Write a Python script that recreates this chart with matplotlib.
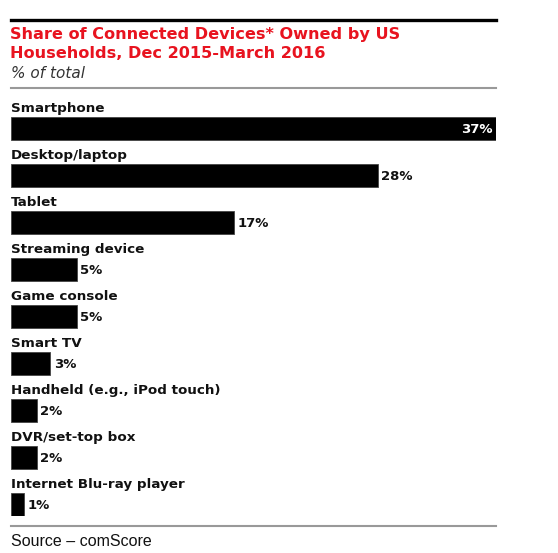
import matplotlib
matplotlib.use("Agg")
import matplotlib.pyplot as plt
from matplotlib.lines import Line2D

categories = ["Smartphone", "Desktop/laptop", "Tablet", "Streaming device",
              "Game console", "Smart TV", "Handheld (e.g., iPod touch)",
              "DVR/set-top box", "Internet Blu-ray player"]
values = [37, 28, 17, 5, 5, 3, 2, 2, 1]
value_labels = ["37%", "28%", "17%", "5%", "5%", "3%", "2%", "2%", "1%"]

title_lines = ["Share of Connected Devices* Owned by US",
               "Households, Dec 2015-March 2016"]
subtitle = "% of total"
source = "Source \u2013 comScore"

W, H = 558, 553
fig = plt.figure(figsize=(W / 100, H / 100), dpi=100)
fig.patch.set_facecolor("white")

def fx(px):
    return px / W

def fy(py):
    return 1 - py / H

left_px, right_px = 11, 496
top_px, bottom_px = 116.5, 515.5
ax = fig.add_axes([fx(left_px), fy(bottom_px), fx(right_px) - fx(left_px),
                   (bottom_px - top_px) / H])
bar_h = 23 / 47
ypos = list(range(len(categories)))
ax.barh(ypos, values, height=bar_h, color="black", edgecolor="#444444", linewidth=0.6)
ax.set_xlim(0, max(values))
ax.set_ylim(len(categories) - 1 + bar_h / 2, -bar_h / 2)
ax.axis("off")

for i, (cat, v, lab) in enumerate(zip(categories, values, value_labels)):
    ax.text(0, i - bar_h / 2 - 0.105, cat, ha="left", va="baseline",
            fontsize=9.7, fontweight="bold", color="#111111", clip_on=False)
    if v == max(values):
        ax.text(v - 0.25, i + 0.03, lab, ha="right", va="center", fontsize=9.5,
                fontweight="bold", color="white")
    else:
        ax.text(v + 0.25, i + 0.03, lab, ha="left", va="center", fontsize=9.5,
                fontweight="bold", color="#111111")

# rules
fig.add_artist(Line2D([fx(left_px), fx(right_px)], [fy(19.5), fy(19.5)],
                      color="black", linewidth=2.4))
fig.add_artist(Line2D([fx(left_px), fx(right_px)], [fy(88), fy(88)],
                      color="#999999", linewidth=1.5))
fig.add_artist(Line2D([fx(left_px), fx(right_px)], [fy(526), fy(526)],
                      color="#999999", linewidth=1.5))

for k, line in enumerate(title_lines):
    fig.text(fx(10), fy(39.5 + 18 * k), line, ha="left", va="baseline",
             fontsize=11.6, fontweight="bold", color="#e8131f")
fig.text(fx(11), fy(73), subtitle, ha="left", va="center", fontsize=11,
         style="italic", color="#333333")
fig.text(fx(11), fy(541), source, ha="left", va="center", fontsize=11.5,
         family="Liberation Sans", color="#111111")

fig.savefig("out.png", dpi=100, facecolor="white")
